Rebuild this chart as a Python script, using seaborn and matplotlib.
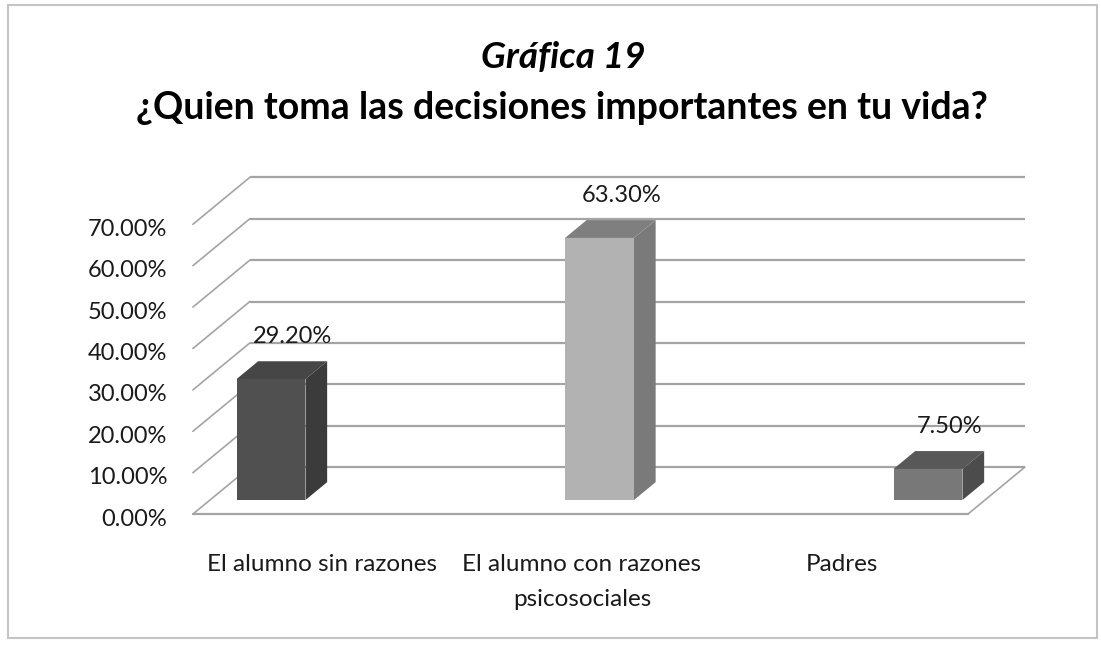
import matplotlib
matplotlib.use("Agg")
import matplotlib.pyplot as plt
from matplotlib.patches import Polygon, Rectangle
import seaborn as sns

# ---------------- data ----------------
categories = ["El alumno sin razones", "El alumno con razones\npsicosociales", "Padres"]
values = [29.20, 63.30, 7.50]
value_labels = ["29.20%", "63.30%", "7.50%"]
ytick_values = [0, 10, 20, 30, 40, 50, 60, 70]
ytick_labels = ["0.00%", "10.00%", "20.00%", "30.00%", "40.00%", "50.00%", "60.00%", "70.00%"]
title_1 = "Gráfica 19"
title_2 = "¿Quien toma las decisiones importantes en tu vida?"

# ---------------- styles ----------------
front_colors = ["#505050", "#b2b2b2", "#787878"]
top_colors = ["#464646", "#7f7f7f", "#585858"]
side_colors = ["#3b3b3b", "#7a7a7a", "#4c4c4c"]
grid_color = "#a4a4a4"

sns.set_theme(style="white")
plt.rcParams["font.family"] = ["Lato", "DejaVu Sans"]

W, H, DPI = 1101, 645, 100
fig = plt.figure(figsize=(W / DPI, H / DPI), dpi=DPI)
fig.patch.set_facecolor("white")


def fig_box(x0, y0, x1, y1):
    """pixel box (top-left origin) -> figure fraction rect"""
    return [x0 / W, 1 - y1 / H, (x1 - x0) / W, (y1 - y0) / H]


# main axes: bar front plane
AX = (100, 150, 1060, 540)
X0PX, XS = 271, 328.5   # pixel of category 0, pixels per category
Y0PX, YS = 500, 4.14    # pixel of 0 %, pixels per 1 %
ax = fig.add_axes(fig_box(*AX))

sns.barplot(x=categories, y=values, hue=categories, palette=front_colors,
            width=0.21, saturation=1, legend=False, ax=ax, edgecolor="none")

ax.set_xlim((AX[0] - X0PX) / XS, (AX[2] - X0PX) / XS)
ax.set_ylim((Y0PX - AX[3]) / YS, (Y0PX - AX[1]) / YS)
ax.axis("off")


def shift(t):
    """offset (data units) for depth t in [0,1]; bar front sits at t=0.3"""
    return 57 * (t - 0.3) / XS, 47 * (t - 0.3) / YS


XL = (210 - X0PX) / XS
XR = (985 - X0PX) / XS
f_dx, f_dy = shift(0.0)
b_dx, b_dy = shift(1.0)

# back wall gridlines + left wall diagonals
for v in ytick_values:
    ax.plot([XL + b_dx, XR + b_dx], [v + b_dy, v + b_dy], color=grid_color, lw=1.6, zorder=1,
            solid_capstyle="butt")
    ax.plot([XL + f_dx, XL + b_dx], [v + f_dy, v + b_dy], color=grid_color, lw=1.2, zorder=1)

# floor edges
ax.plot([XL + f_dx, XR + f_dx], [f_dy, f_dy], color=grid_color, lw=1.6, zorder=1)
ax.plot([XR + f_dx, XR + b_dx], [f_dy, b_dy], color=grid_color, lw=1.2, zorder=1)

# 3-D faces of the bars
d_dx, d_dy = shift(0.68)
for i, p in enumerate(ax.patches[:len(values)]):
    x0, w, h = p.get_x(), p.get_width(), p.get_height()
    p.set_zorder(4)
    top = Polygon([(x0, h), (x0 + w, h), (x0 + w + d_dx, h + d_dy), (x0 + d_dx, h + d_dy)],
                  closed=True, facecolor=top_colors[i], edgecolor="none", zorder=3)
    side = Polygon([(x0 + w, 0), (x0 + w, h), (x0 + w + d_dx, h + d_dy), (x0 + w + d_dx, d_dy)],
                   closed=True, facecolor=side_colors[i], edgecolor="none", zorder=3)
    ax.add_patch(top)
    ax.add_patch(side)
    ax.text(x0 + w / 2 + 22 / XS, h + d_dy + 25 / YS, value_labels[i],
            ha="center", va="center", fontsize=17, color="#1a1a1a", zorder=5)

# y tick labels on the front plane
ax_y = fig.add_axes(fig_box(170, 150, 171, 540))
ax_y.set_ylim((517 - 540) / YS, (517 - 150) / YS)
ax_y.set_yticks(ytick_values)
ax_y.set_yticklabels(ytick_labels, fontsize=17, color="#1a1a1a")
ax_y.set_xticks([])
ax_y.tick_params(axis="y", length=0, pad=2)
for s in ax_y.spines.values():
    s.set_visible(False)
ax_y.patch.set_alpha(0)

# category labels under the floor front edge
ax_c = fig.add_axes(fig_box(192, 505, 972, 514))
ax_c.set_xlim(-0.5, 2.5)
ax_c.set_xticks(range(len(categories)))
ax_c.set_xticklabels(categories, fontsize=17.5, color="#1a1a1a", linespacing=1.8)
ax_c.set_yticks([])
ax_c.tick_params(axis="x", length=0, pad=29)
for s in ax_c.spines.values():
    s.set_visible(False)
ax_c.patch.set_alpha(0)

# titles
fig.text(563 / W, 1 - 58 / H, title_1, fontsize=26.5, fontweight="bold", fontstyle="italic",
         ha="center", va="center", color="black")
fig.text(562 / W, 1 - 108 / H, title_2, fontsize=27, fontweight="bold",
         ha="center", va="center", color="black")

# chart frame
fig.add_artist(Rectangle((8 / W, 1 - 638 / H), (1097 - 8) / W, (638 - 5) / H,
                         transform=fig.transFigure, fill=False, edgecolor="#c4c4c4", lw=1.5))

fig.savefig("out.png", dpi=DPI, facecolor="white")
